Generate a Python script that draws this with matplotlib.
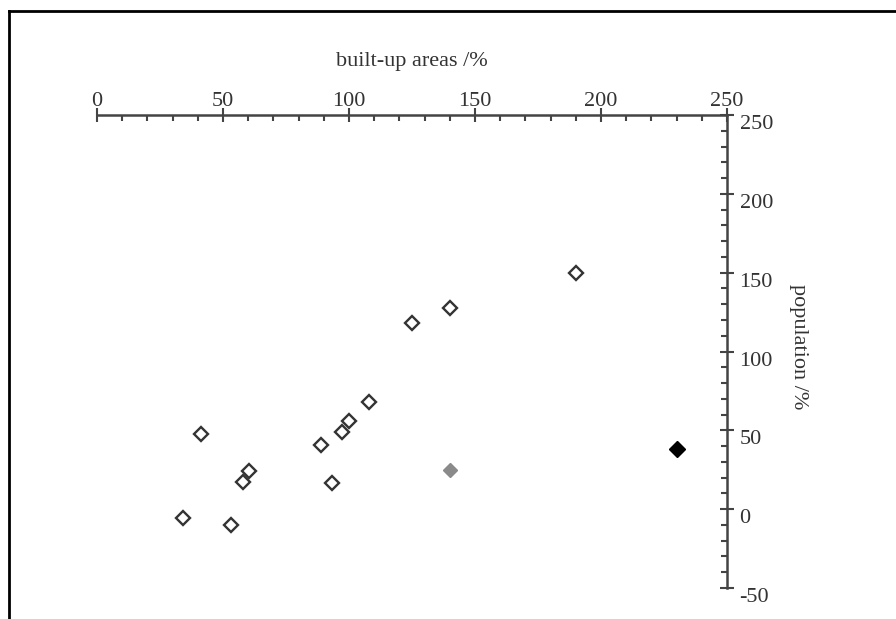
import matplotlib
matplotlib.use("Agg")
import matplotlib.pyplot as plt
from matplotlib.lines import Line2D
from matplotlib.ticker import MultipleLocator
import numpy as np

# =========================
# DADOS
# =========================
built_open = [34.2, 41.2, 53.2, 58.1, 60.3, 89.0, 93.1, 97.1, 100.1, 107.9, 125.1, 140.1, 190.1]
pop_open = [-5.3, 47.6, -10.3, 17.3, 24.3, 41.0, 16.9, 49.0, 56.0, 67.7, 117.9, 127.7, 149.9]

built_gray = [140.1]
pop_gray = [24.7]

built_black = [230.0]
pop_black = [37.9]

x_ticks = [0, 50, 100, 150, 200, 250]
y_ticks = [-50, 0, 50, 100, 150, 200, 250]

# ===== CONFIG VISUAL =====
plt.rcParams.update({
    "font.family": "Liberation Serif",
    "font.size": 16,
    "axes.unicode_minus": False,
    "text.color": "#333333",
    "xtick.color": "#444444",
    "ytick.color": "#444444",
    "xtick.labelcolor": "#333333",
    "ytick.labelcolor": "#333333",
})

fig = plt.figure(figsize=(8.96, 6.19), dpi=100)
ax = fig.add_axes([97 / 896, 1 - 588 / 619, 630 / 896, 473 / 619])

ax.plot(built_open, pop_open, linestyle="none", marker="D", markersize=7.5,
        markerfacecolor="white", markeredgecolor="#333333", markeredgewidth=1.7)
ax.plot(built_gray, pop_gray, linestyle="none", marker="D", markersize=7,
        markerfacecolor="#8a8a8a", markeredgecolor="#8a8a8a")
ax.plot(built_black, pop_black, linestyle="none", marker="D", markersize=8,
        markerfacecolor="black", markeredgecolor="black")

ax.set_xlim(0, 250)
ax.set_ylim(-50, 250)

# eixos: so em cima e a direita
for lado in ["left", "bottom"]:
    ax.spines[lado].set_visible(False)
for lado in ["top", "right"]:
    ax.spines[lado].set_color("#444444")
    ax.spines[lado].set_linewidth(1.8)

ax.xaxis.tick_top()
ax.yaxis.tick_right()
ax.set_xticks(x_ticks)
ax.set_yticks(y_ticks)
ax.xaxis.set_minor_locator(MultipleLocator(10))
ax.yaxis.set_minor_locator(MultipleLocator(10))
ax.tick_params(which="major", direction="inout", length=10, width=1.5)
ax.tick_params(which="minor", direction="in", length=4, width=1.5)
ax.tick_params(axis="x", which="major", pad=-2)
ax.tick_params(axis="y", which="major", pad=4)
plt.setp(ax.get_yticklabels(), va="top")

ax.patch.set_alpha(0)

# titulos dos eixos
fig.text(412 / 896, 1 - 66 / 619, "built-up areas /%", ha="center", va="baseline", fontsize=16)
fig.text(798 / 896, 1 - 347 / 619, "population /%", ha="center", va="center",
         rotation=-90, fontsize=16)

# moldura (so topo e esquerda)
fig.add_artist(Line2D([9 / 896, 1], [1 - 11 / 619, 1 - 11 / 619], transform=fig.transFigure,
                      color="black", linewidth=2))
fig.add_artist(Line2D([9 / 896, 9 / 896], [0, 1 - 11 / 619], transform=fig.transFigure,
                      color="black", linewidth=2))

fig.savefig("out.png", dpi=100)
